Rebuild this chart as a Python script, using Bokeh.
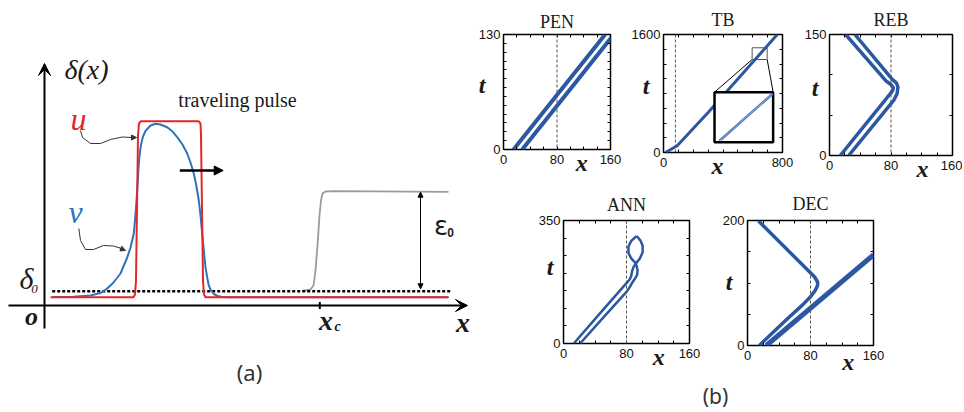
from bokeh.plotting import figure
from bokeh.models import (Range1d, Label, Arrow, VeeHead, NormalHead, LinearAxis,
                          FixedTicker, Span, Spacer)
from bokeh.layouts import row, column
from bokeh.embed import file_html
from bokeh.resources import INLINE

# ---------------- panel (a): schematic profiles ----------------
u_x = [6, 89, 90.5, 91.5, 93.5, 94.5, 96.5, 154, 156, 156.5, 158.5, 159.5, 161, 404]
u_y = [8.3, 8.3, 11, 25, 170, 182, 184.3, 184.3, 182, 170, 25, 11, 8.3, 8.3]
v_x = [8, 29, 46, 56, 62.7, 69, 76, 82.7, 86, 89.3, 91, 92.5, 94, 95, 96.5, 98.5, 101, 106,
       111, 116, 122.7, 127.7, 132.7, 138, 142.7, 146, 149.3, 152, 154.3, 156, 157.7, 159.3,
       161, 162.7, 164.3, 166.5, 169.3, 173, 177.7, 186, 404]
v_y = [8.5, 8.7, 10, 12.5, 17, 23, 32, 48, 58, 72, 91, 112, 137, 150, 161, 169, 174.5, 180,
       181.7, 181, 178.3, 174.3, 168.3, 161, 152, 143, 132, 119, 105, 90, 72, 55,
       38.3, 28, 20, 15, 11.5, 9.5, 8.5, 8.3, 8.3]
delta0_x = [7.7, 407.7]
delta0_y = [14.3, 14.3]
eps_x = [258, 266, 269, 271, 273, 275, 276.5, 278, 281, 291, 404]
eps_y = [14.5, 16, 20, 35, 60, 90, 105, 112, 114, 114.3, 113.7]
x_c = 275.3

# ---------------- panel (b): space-time plots ----------------
PEN_L1_X = [15, 152]; PEN_L1_T = [0, 130]
PEN_L2_X = [28, 165]; PEN_L2_T = [0, 130]

TB_X = [13, 92, 300, 765]; TB_T = [0, 91, 542, 1600]
TB_IN1_X = [372, 731]; TB_IN1_T = [163, 804]
TB_IN2_X = [386, 737]; TB_IN2_T = [163, 790]
TB_ZOOM = (596, 697, 1261, 1420)      # small box (x0, x1, t0, t1)
TB_INSET = (343, 737, 140, 818)       # inset box

REB_L1_X = [14, 76, 82, 83, 80, 74, 21]; REB_L1_T = [0, 73, 80, 84, 88, 92, 150]
REB_L2_X = [25, 84, 88, 89, 87, 82, 33]; REB_L2_T = [0, 69, 77, 85, 90, 94, 150]

ANN_A_X = [13, 46, 80, 84, 86, 87, 89, 92, 97, 100.5, 100.5, 98, 93]
ANN_A_T = [0, 85, 172, 182, 192, 205, 218, 228, 242, 260, 278, 292, 306]
ANN_B_X = [21, 51, 80, 84, 87, 90, 93.5, 94, 93, 91, 86, 82.5, 82.5, 86, 93]
ANN_B_T = [0, 75, 147, 160, 172, 182, 195, 208, 220, 230, 242, 258, 276, 292, 306]

DEC_L1_X = [24, 160]; DEC_L1_T = [0, 145]
DEC_L2_X = [15, 50, 70, 80, 86, 89, 89, 85, 14]
DEC_L2_T = [0, 42, 65, 78, 88, 96, 102, 110, 199]

X_REF = 80

TICKS_160 = [0, 20, 40, 60, 80, 100, 120, 140, 160]
LAB_160 = [0, 80, 160]

RED = "#e4262c"
VBLUE = "#2f74b8"
BLUE = "#2c58a3"
SERIF = "Liberation Serif"
SANS = "Liberation Sans"

# =============== panel (a) ===============
pa = figure(title=None, width=471, height=410, x_range=Range1d(-44, 427),
            y_range=Range1d(-105, 305), x_axis_location=None, y_axis_location=None,
            toolbar_location=None, output_backend="svg", min_border=0,
            outline_line_color=None)
pa.grid.visible = False

pa.line(eps_x, eps_y, line_color="#9b9b9b", line_width=1.8)
pa.line(delta0_x, delta0_y, line_color="black", line_width=2.5, line_dash="3 2")
pa.line(v_x, v_y, line_color=VBLUE, line_width=2)
pa.line(u_x, u_y, line_color=RED, line_width=2)

pa.add_layout(Arrow(end=VeeHead(size=12, fill_color="black", line_color="black"),
                    x_start=0, y_start=-23, x_end=0, y_end=242,
                    line_width=2, line_color="black"))
pa.add_layout(Arrow(end=VeeHead(size=12, fill_color="black", line_color="black"),
                    x_start=-36, y_start=0, x_end=423, y_end=0,
                    line_width=2, line_color="black"))
pa.segment(x0=[x_c], y0=[-3.5], x1=[x_c], y1=[3.5], line_color="black", line_width=2)
pa.add_layout(Arrow(end=NormalHead(size=9, fill_color="black", line_color="black"),
                    x_start=135.3, y_start=135, x_end=178.7, y_end=135,
                    line_width=2.5, line_color="black"))
pa.add_layout(Arrow(start=NormalHead(size=5, fill_color="black", line_color="black"),
                    end=NormalHead(size=5, fill_color="black", line_color="black"),
                    x_start=376, y_start=16.7, x_end=376, y_end=113.3,
                    line_width=1, line_color="black"))
cu_x = [36, 38, 46, 56, 66, 78, 88]
cu_y = [175, 168, 162, 162, 166, 168.5, 168]
pa.line(cu_x, cu_y, line_color="#333333", line_width=1)
pa.add_layout(Arrow(end=NormalHead(size=5, fill_color="#333333", line_color="#333333"),
                    x_start=86, y_start=168, x_end=92, y_end=168,
                    line_width=1, line_color="#333333"))
cv_x = [34.3, 36, 41, 49, 59, 69, 77]
cv_y = [77, 65, 56, 56, 60, 59.5, 57]
pa.line(cv_x, cv_y, line_color="#333333", line_width=1)
pa.add_layout(Arrow(end=NormalHead(size=5, fill_color="#333333", line_color="#333333"),
                    x_start=75, y_start=57.5, x_end=81, y_end=55,
                    line_width=1, line_color="#333333"))


def lab(p, x, y, text, size, style="normal", font=SERIF, color="#1a1a1a"):
    p.add_layout(Label(x=x, y=y, text=text, text_font=font, text_font_size=size,
                       text_font_style=style, text_color=color, text_align="center",
                       text_baseline="middle"))


lab(pa, 42, 236, "\u03b4(x)", "28px", "italic")
lab(pa, 193, 206, "traveling pulse", "20px")
lab(pa, 34, 187, "u", "32px", "italic", color=RED)
lab(pa, 31, 94, "v", "32px", "italic", color=VBLUE)
lab(pa, -18, 27, "\u03b4", "30px", "italic")
lab(pa, -10, 17, "0", "13px", "italic")
lab(pa, -13, -11, "o", "26px", "bold italic")
lab(pa, 281.5, -15, "x", "28px", "bold italic")
lab(pa, 293, -21, "c", "14px", "bold italic")
lab(pa, 418.5, -16.5, "x", "28px", "bold italic")
lab(pa, 396.5, 79.5, "\u03b5", "26px", "normal", font="DejaVu Sans")
lab(pa, 406, 73.3, "0", "12px", "bold", font=SANS)
lab(pa, 205, -66, "(a)", "22px", "normal", font="Noto Sans", color="#333333")


# =============== panel (b) helpers ===============
def make_panel(title, xr, yr, xt, xl, yt, yl, fw, fh, bl, br, bt, bb, title_off):
    p = figure(title=None, frame_width=fw, frame_height=fh,
               x_range=Range1d(*xr), y_range=Range1d(*yr),
               x_axis_location=None, y_axis_location=None, toolbar_location=None,
               output_backend="svg", min_border_left=bl, min_border_right=br,
               min_border_top=bt, min_border_bottom=bb)
    p.grid.visible = False
    p.outline_line_color = "black"
    p.outline_line_width = 1.5
    p.outline_line_alpha = 1
    for loc, ticks, labs in (("below", xt, xl), ("above", xt, []),
                             ("left", yt, yl), ("right", yt, [])):
        ax = LinearAxis(ticker=FixedTicker(ticks=ticks, minor_ticks=[]))
        ax.major_label_overrides = {t: (str(t) if t in labs else "") for t in ticks}
        ax.axis_line_color = None
        ax.major_tick_in = 3
        ax.major_tick_out = 0
        ax.major_tick_line_color = "black"
        ax.minor_tick_line_color = None
        ax.major_label_text_font = SANS
        ax.major_label_text_font_size = "13px" if labs else "0px"
        ax.major_label_text_color = "#111111"
        ax.major_label_standoff = 5 if loc == "below" else (3 if loc == "left" else 0)
        if loc == "above":
            ax.axis_label = title
            ax.axis_label_text_font = SERIF
            ax.axis_label_text_font_size = "18px"
            ax.axis_label_text_font_style = "normal"
            ax.axis_label_text_color = "#1a1a1a"
            ax.axis_label_standoff = title_off
        p.add_layout(ax, loc)
    p.add_layout(Span(location=X_REF, dimension="height", line_color="#555555",
                      line_width=1, line_dash="3 2"))
    return p


def text_axis(p, loc, pos, text, standoff):
    ax = LinearAxis(ticker=FixedTicker(ticks=[pos], minor_ticks=[]))
    ax.major_label_overrides = {pos: text}
    ax.axis_line_color = None
    ax.major_tick_line_color = None
    ax.minor_tick_line_color = None
    ax.major_tick_in = 0
    ax.major_tick_out = 0
    ax.major_label_text_font = SERIF
    ax.major_label_text_font_size = "24px"
    ax.major_label_text_font_style = "bold italic"
    ax.major_label_text_color = "#1a1a1a"
    ax.major_label_standoff = standoff
    p.add_layout(ax, loc)


# PEN
xr, yr = (0, 160), (0, 130)
pPEN = make_panel("PEN", xr, yr, TICKS_160, LAB_160, list(range(0, 131, 10)), [0, 130],
                  107, 115, 32, 15, 34, 31, 3)
pPEN.line(PEN_L1_X, PEN_L1_T, line_color=BLUE, line_width=4)
pPEN.line(PEN_L2_X, PEN_L2_T, line_color=BLUE, line_width=4)
text_axis(pPEN, "below", 117, "x", -17)
text_axis(pPEN, "left", 73, "t", -10)

# TB
xr, yr = (0, 800), (0, 1600)
pTB = make_panel("TB", xr, yr, [0, 100, 200, 300, 400, 500, 600, 700, 800], [0, 800],
                 [0, 200, 400, 600, 800, 1000, 1200, 1400, 1600], [0, 1600],
                 119, 118, 38, 13, 34, 28, 5)
pTB.line(TB_X, TB_T, line_color=BLUE, line_width=3)
pTB.segment(x0=[TB_ZOOM[0], TB_ZOOM[1]], y0=[TB_ZOOM[2], TB_ZOOM[2]],
            x1=[TB_INSET[0], TB_INSET[1]], y1=[TB_INSET[3], TB_INSET[3]],
            line_color="black", line_width=1)
pTB.quad(left=[TB_ZOOM[0]], right=[TB_ZOOM[1]], bottom=[TB_ZOOM[2]], top=[TB_ZOOM[3]],
         fill_color=None, line_color="#555555", line_width=1)
pTB.quad(left=[TB_INSET[0]], right=[TB_INSET[1]], bottom=[TB_INSET[2]], top=[TB_INSET[3]],
         fill_color="white", line_color="black", line_width=2.5)
pTB.line(TB_IN1_X, TB_IN1_T, line_color="#4f78bd", line_width=1.2)
pTB.line(TB_IN2_X, TB_IN2_T, line_color="#4f78bd", line_width=1.2)
text_axis(pTB, "below", 363, "x", -17)
text_axis(pTB, "left", 895, "t", -21)

# REB
xr, yr = (0, 160), (0, 150)
pREB = make_panel("REB", xr, yr, TICKS_160, LAB_160, [0, 50, 100, 150], [0, 150],
                  123, 121, 34, 10, 34, 25, 5)
pREB.line(REB_L1_X, REB_L1_T, line_color=BLUE, line_width=3.5, line_join="round")
pREB.line(REB_L2_X, REB_L2_T, line_color=BLUE, line_width=3.5, line_join="round")
text_axis(pREB, "below", 121, "x", -17)
text_axis(pREB, "left", 84, "t", -17)

# ANN
xr, yr = (0, 160), (0, 350)
pANN = make_panel("ANN", xr, yr, TICKS_160, LAB_160, [0, 50, 100, 150, 200, 250, 300, 350],
                  [0, 350], 126, 123, 33, 30, 32, 40, 6)
pANN.line(ANN_A_X, ANN_A_T, line_color=BLUE, line_width=2.5, line_join="round")
pANN.line(ANN_B_X, ANN_B_T, line_color=BLUE, line_width=2.5, line_join="round")
text_axis(pANN, "below", 121, "x", -17)
text_axis(pANN, "left", 219, "t", -18)

# DEC
xr, yr = (0, 160), (0, 200)
pDEC = make_panel("DEC", xr, yr, TICKS_160, LAB_160, [0, 50, 100, 150, 200], [0, 200],
                  126, 125, 28, 30, 36, 34, 7)
pDEC.line(DEC_L1_X, DEC_L1_T, line_color=BLUE, line_width=5)
pDEC.line(DEC_L2_X, DEC_L2_T, line_color=BLUE, line_width=3.5, line_join="round")
text_axis(pDEC, "below", 128, "x", -14)
text_axis(pDEC, "left", 101, "t", -13)

# (b) label strip
pb = figure(title=None, width=491, height=35, x_range=Range1d(0, 491), y_range=Range1d(0, 35),
            x_axis_location=None, y_axis_location=None, toolbar_location=None,
            output_backend="svg", min_border=0, outline_line_color=None)
pb.grid.visible = False
lab(pb, 244, 19, "(b)", "21px", "normal", font="Noto Sans", color="#333333")

right = column(row(pPEN, pTB, pREB),
               row(Spacer(width=59, height=195), pANN, pDEC, Spacer(width=59, height=195)),
               pb)
layout = row(pa, right)

open("out.html", "w").write(file_html(layout, INLINE))
